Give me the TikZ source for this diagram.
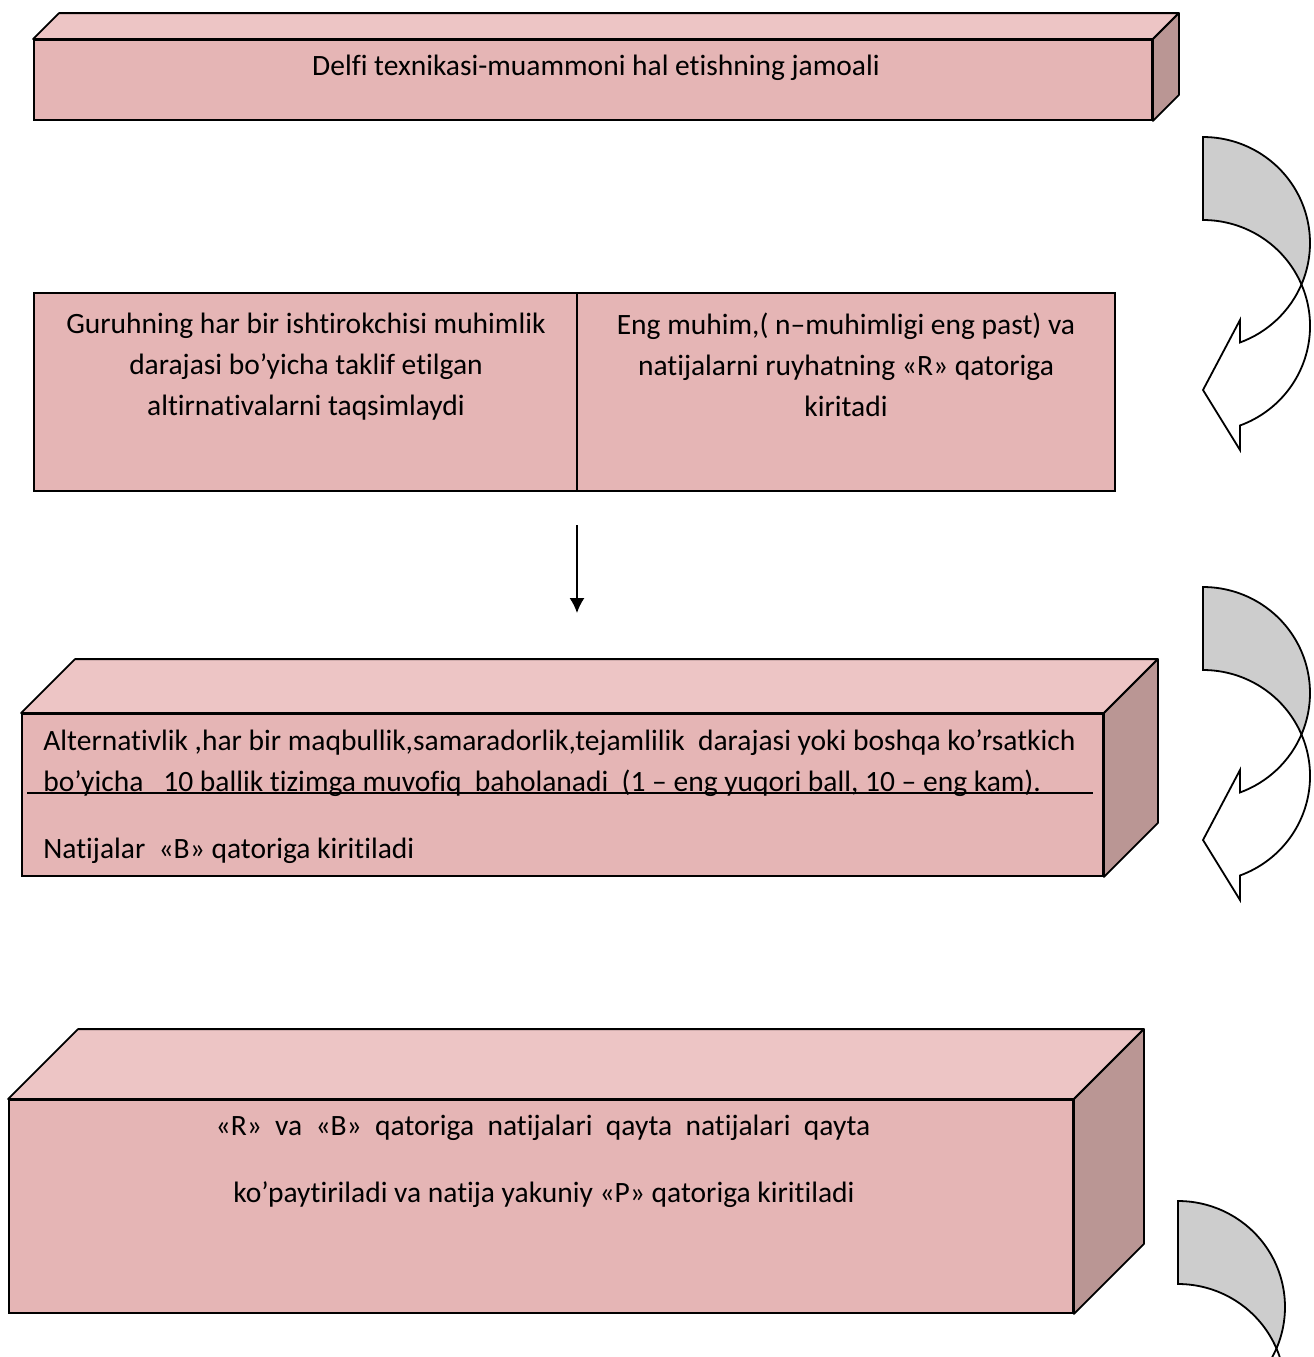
\documentclass[tikz,border=0pt]{standalone}
\usepackage{fontspec}
\setmainfont{Carlito}[Ligatures=NoCommon]
\usetikzlibrary{fit,arrows.meta}

\definecolor{frontpink}{RGB}{229,181,181}
\definecolor{toppink}{RGB}{237,197,197}
\definecolor{sidepink}{RGB}{186,150,148}
\definecolor{backgray}{RGB}{205,205,205}

\tikzset{
  frontface/.style={draw, fill=frontpink, line width=0.9pt, inner sep=0pt},
  topface/.style={draw, fill=toppink, line width=0.9pt, line join=round},
  sideface/.style={draw, fill=sidepink, line width=0.9pt, line join=round},
  txt/.style={inner sep=0pt, font=\fontsize{14.75}{20.5}\selectfont},
  flow/.style={line width=0.8pt, -{Latex[length=7.5pt,width=7.5pt]}},
  bentback/.style={draw, fill=backgray, line width=0.9pt},
  bentfront/.style={draw, fill=white, line width=0.9pt},
}

% top and right faces of a box: #1 front node, #2 depth
\newcommand{\boxsides}[2]{%
  \draw[topface] (#1.north west) -- ++(#2,-#2) -- ([shift={(#2,-#2)}]#1.north east) -- (#1.north east) -- cycle;
  \draw[sideface] (#1.north east) -- ([shift={(#2,-#2)}]#1.north east)
    -- ([shift={(#2,-#2)}]#1.south east) -- (#1.south east) -- cycle;
}

% curved arrow, #1 = top left corner
\newcommand{\bentarrow}[1]{%
  \begin{scope}[shift={(#1)}]
    \draw[bentback] (0,0) arc[start angle=-90, end angle=23.05, x radius=107, y radius=106]
      arc[start angle=-23.05, end angle=-90, x radius=107, y radius=106] -- cycle;
    \draw[bentfront] (98.5,147.5) arc[start angle=-23.05, end angle=69.8, x radius=107, y radius=106]
      -- (37,313) -- (0,253) -- (37,183) -- (36.9,205.5)
      arc[start angle=69.8, end angle=23.05, x radius=107, y radius=106] -- cycle;
  \end{scope}}

\begin{document}
\begin{tikzpicture}[x=0.5pt,y=-0.5pt]
\useasboundingbox (0,0) rectangle (1314,1357);
\clip (0,0) rectangle (1314,1357);

% first box
\node[frontface, fit={(34,40) (1152,120)}] (b1) {};
\boxsides{b1}{26}
\node[txt, anchor=base] (t1) at (596,75) {Delfi texnikasi-muammoni hal etishning jamoali};

% second box, two halves
\node[frontface, fit={(34,293) (577,491)}] (b2l) {};
\node[frontface, fit={(577,293) (1115,491)}] (b2r) {};
\node[txt, align=center, anchor=north] (t2l) at (306,313)
  {Guruhning har bir ishtirokchisi muhimlik\\darajasi bo’yicha taklif etilgan\\altirnativalarni taqsimlaydi};
\node[txt, align=center, anchor=north] (t2r) at (846,313)
  {Eng muhim,( n–muhimligi eng past) va\\natijalarni ruyhatning «R» qatoriga\\kiritadi};

% arrow down
\coordinate (a1) at (577,525);
\coordinate (a2) at (577,613);
\draw[flow] (a1) -- (a2);

% third box
\node[frontface, fit={(22,714) (1103,876)}] (b3) {};
\boxsides{b3}{54}
\node[txt, align=left, anchor=north west] (t3) at (43,729)
  {Alternativlik ,har bir maqbullik,samaradorlik,tejamlilik\ \ darajasi yoki boshqa ko’rsatkich\\
   bo’yicha\ \ \ 10 ballik tizimga muvofiq\ \ baholanadi\ \ (1 – eng yuqori ball, 10 – eng kam).};
\draw[line width=0.8pt] (27,793) -- (1093,793);
\node[txt, anchor=base west] (t4) at (43,858) {Natijalar\ \ «B» qatoriga kiritiladi};

% fourth box
\node[frontface, fit={(9,1100) (1073,1313)}] (b4) {};
\boxsides{b4}{70}
\node[txt, anchor=base] (t5) at (543,1135)
  {«R»\ \ va\ \ «B»\ \ qatoriga\ \ natijalari\ \ qayta\ \ natijalari\ \ qayta};
\node[txt, anchor=base] (t6) at (544,1202)
  {ko’paytiriladi va natija yakuniy «P» qatoriga kiritiladi};

% curved arrows on the right
\bentarrow{1203,137}
\bentarrow{1203,587}
\bentarrow{1178,1201}

\end{tikzpicture}
\end{document}
